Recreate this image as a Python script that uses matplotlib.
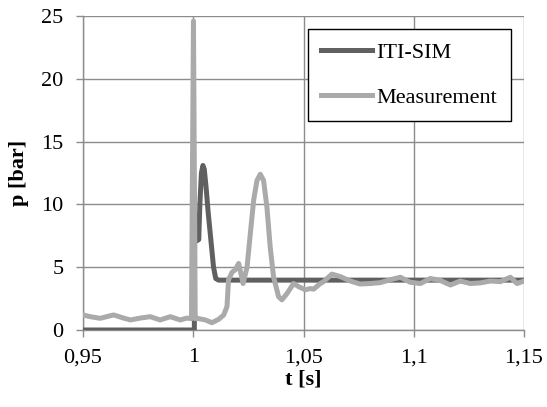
import matplotlib.pyplot as plt

plt.rcParams['font.family'] = ['Liberation Serif', 'DejaVu Serif']

# ITI-SIM simulation
t_sim = [0.95, 1.0005, 1.0006, 1.0025, 1.003, 1.0037, 1.0044, 1.005, 1.0058,
         1.0068, 1.0077, 1.0092, 1.0102, 1.0115, 1.15]
p_sim = [0.0, 0.0, 7.0, 7.2, 10.0, 12.5, 13.1, 12.8, 11.4,
         9.3, 7.7, 5.0, 4.1, 3.97, 3.97]

# Measurement
t_meas = [0.95, 0.9533, 0.9578, 0.9639, 0.9684, 0.9715, 0.976, 0.9805, 0.985,
          0.9896, 0.9941, 0.9972, 0.9992, 1.0001, 1.0009, 1.0017, 1.0055,
          1.0085, 1.0115, 1.0138, 1.0153, 1.016, 1.0176, 1.0191, 1.0206,
          1.0226, 1.0244, 1.0259, 1.0274, 1.0289, 1.0304, 1.0319, 1.0334,
          1.0349, 1.0364, 1.0387, 1.0402, 1.0425, 1.0455, 1.0478, 1.0508,
          1.0531, 1.0546, 1.0576, 1.0591, 1.0629, 1.0667, 1.0712, 1.0757,
          1.0803, 1.0848, 1.0893, 1.0939, 1.0984, 1.103, 1.1075, 1.112,
          1.1166, 1.1211, 1.1256, 1.1302, 1.1347, 1.1393, 1.1438, 1.1468, 1.15]
p_meas = [1.2, 1.06, 0.93, 1.2, 0.95, 0.8, 0.95, 1.06, 0.8,
          1.06, 0.8, 0.95, 0.9, 24.6, 0.9, 0.93, 0.8,
          0.58, 0.85, 1.19, 1.86, 4.0, 4.6, 4.8, 5.3,
          3.7, 5.0, 7.7, 10.35, 11.9, 12.4, 11.9, 9.8,
          6.6, 4.25, 2.65, 2.4, 2.9, 3.7, 3.45, 3.2,
          3.3, 3.25, 3.7, 3.85, 4.45, 4.25, 3.9, 3.66,
          3.7, 3.77, 4.0, 4.2, 3.8, 3.7, 4.1, 3.95,
          3.58, 3.9, 3.7, 3.75, 3.9, 3.85, 4.2, 3.7, 3.9]

x_ticks = [0.95, 1.0, 1.05, 1.1, 1.15]
x_labels = ['0,95', '1', '1,05', '1,1', '1,15']
y_ticks = [0, 5, 10, 15, 20, 25]

fig = plt.figure(figsize=(5.47, 4.07), dpi=100)
ax = fig.add_axes([0.1517, 0.1892, 0.8063, 0.7715])

ax.plot(t_sim, p_sim, color='#606060', linewidth=3.6, label='ITI-SIM',
        solid_joinstyle='round', zorder=3)
ax.plot(t_meas, p_meas, color='#aaaaaa', linewidth=3.6, label='Measurement',
        solid_joinstyle='round', zorder=4)

ax.set_xlim(0.95, 1.15)
ax.set_ylim(0, 25)
ax.set_xticks(x_ticks)
ax.set_xticklabels(x_labels)
ax.set_yticks(y_ticks)

ax.grid(True, color='#8c8c8c', linewidth=1.0)
ax.set_axisbelow(True)
for s in ['top', 'right']:
    ax.spines[s].set_visible(False)
for s in ['left', 'bottom']:
    ax.spines[s].set_color('#8c8c8c')
    ax.spines[s].set_linewidth(1.0)
ax.tick_params(direction='out', length=5, width=1, color='#8c8c8c',
               labelsize=16)
ax.tick_params(axis='y', pad=9)
ax.tick_params(axis='x', pad=8)

ax.set_xlabel('t [s]', fontsize=16, fontweight='bold', labelpad=2)
ax.set_ylabel('p [bar]', fontsize=16, fontweight='bold', labelpad=9)

leg = ax.legend(loc='upper right', bbox_to_anchor=(0.970, 0.959), fontsize=16,
                frameon=True, fancybox=False, edgecolor='black', framealpha=1,
                handlelength=2.3, handletextpad=0.2, labelspacing=1.1,
                borderpad=0.6, borderaxespad=0)
leg.get_frame().set_linewidth(1.0)

fig.savefig('out.png', dpi=100)
